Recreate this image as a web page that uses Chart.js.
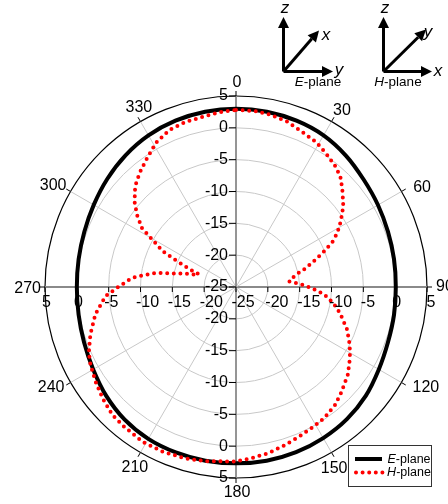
<!DOCTYPE html>
<html>
<head>
<meta charset="utf-8">
<script src="https://cdn.jsdelivr.net/npm/chart.js@4.4.1/dist/chart.umd.min.js"></script>
<style>
  html, body { margin: 0; padding: 0; background: #fff; }
  #wrap { position: relative; width: 448px; height: 504px; }
</style>
</head>
<body>
<div id="wrap"><canvas id="chart"></canvas></div>
<script>
// angles are degrees clockwise from the top, gains in dB
const eAngles = [0, 10, 20, 30, 40, 50, 60, 70, 80, 90, 100, 110, 120, 130, 140, 150, 160, 170,
  180, 190, 200, 210, 220, 230, 240, 250, 260, 270, 280, 290, 300, 310, 320, 330, 340, 350];
const eGain = [3.0, 2.95, 2.8, 2.5, 1.9, 1.2, 0.75, 0.4, 0.2, 0.1, 0.2, 0.4, 0.9, 1.6, 2.1, 2.4, 2.6, 2.7,
  2.7, 2.7, 2.65, 2.55, 2.2, 1.6, 0.9, 0.4, 0.1, 0.0, 0.1, 0.35, 0.8, 1.4, 2.0, 2.5, 2.8, 2.95];

const hAngles = [0, 6, 11, 17, 23, 29, 34, 40, 44, 48, 53, 58, 62, 65, 68, 71, 75, 78, 82, 84,
  86, 88, 90, 92, 95, 97, 99, 103, 106, 111, 117, 122, 128, 135, 140, 146, 151, 157, 163, 169, 175,
  180, 190, 197, 204, 211, 219, 224, 230, 236, 242, 246, 252, 259, 266, 270, 275, 277, 280, 282,
  285, 287, 289, 290, 292, 294, 296, 300, 302, 306, 310, 315, 320, 325, 331, 337, 343, 350, 355];
const hGain = [2.8, 2.8, 2.6, 2.2, 1.5, 1.0, 0.3, -0.5, -1.3, -2.5, -3.9, -5.6, -7.0, -8.3, -10.1, -11.8, -13.7, -15.2, -16.3, -16.6,
  -15.6, -14.6, -13.6, -12.6, -11.0, -10.5, -9.6, -8.5, -7.7, -6.3, -4.95, -3.9, -2.7, -1.6, -0.8, -0.2, 0.1, 0.5, 1.0, 1.6, 2.0,
  2.4, 2.8, 3.1, 3.3, 3.4, 3.1, 2.95, 2.3, 1.6, 0.9, 0.3, -0.95, -2.5, -4.45, -6.5, -8.6, -10.15, -12.2, -14.75,
  -16.8, -18.6, -18.8, -18.0, -16.5, -14.6, -12.2, -9.5, -7.6, -5.8, -4.2, -2.6, -1.5, -0.5, 0.9, 1.8, 2.1, 2.3, 2.6];

const angleLabels = ['0', '30', '60', '90', '120', '150', '180', '210', '240', '270', '300', '330'];
const rTicks = [5, 0, -5, -10, -15, -20, -25];

// radar wants one slot per label, so the readings sit on a 1-degree ring
const degrees = Array.from({ length: 360 }, (_, i) => i);
function onRing(angles, values) {
  const out = degrees.map(() => null);
  angles.forEach((a, i) => { out[a] = values[i]; });
  return out;
}

const FONT = "'Liberation Sans', Arial, sans-serif";

// small hand nudges so the angle labels sit where the original put them
const labelNudge = { 0: [1, 1.5], 30: [2, 2], 60: [6, 3], 90: [1, 0], 120: [6, -2], 150: [-8, 4],
  180: [1, 0], 210: [5, 2.5], 240: [-1, -2], 270: [4, 2], 300: [1, 1], 330: [9, -1] };

function arrow(ctx, x1, y1, x2, y2) {
  const a = Math.atan2(y2 - y1, x2 - x1);
  const len = 11, half = 5.5;
  const bx = x2 - len * Math.cos(a), by = y2 - len * Math.sin(a);
  ctx.beginPath();
  ctx.moveTo(x1, y1);
  ctx.lineTo(bx, by);
  ctx.stroke();
  ctx.beginPath();
  ctx.moveTo(x2, y2);
  ctx.lineTo(bx + half * Math.sin(a), by - half * Math.cos(a));
  ctx.lineTo(bx - half * Math.sin(a), by + half * Math.cos(a));
  ctx.closePath();
  ctx.fill();
}

function planeText(ctx, letter, x, y, size) {
  ctx.font = 'italic ' + size + 'px ' + FONT;
  const w1 = ctx.measureText(letter).width;
  ctx.font = size + 'px ' + FONT;
  const w2 = ctx.measureText('-plane').width;
  const x0 = x - (w1 + w2) / 2;
  ctx.textAlign = 'left';
  ctx.font = 'italic ' + size + 'px ' + FONT;
  ctx.fillText(letter, x0, y);
  ctx.font = size + 'px ' + FONT;
  ctx.fillText('-plane', x0 + w1, y);
}

const polarDecor = {
  id: 'polarDecor',
  afterDraw(chart) {
    const { ctx } = chart;
    const r = chart.scales.r;
    const R = r.getDistanceFromCenterForValue(5);
    ctx.save();
    ctx.fillStyle = '#000';
    ctx.strokeStyle = '#000';
    ctx.lineWidth = 1;

    // angle labels and little ticks on the outer ring
    ctx.font = '16px ' + FONT;
    ctx.textAlign = 'center';
    ctx.textBaseline = 'middle';
    angleLabels.forEach((lab, i) => {
      const idx = i * 30;
      const p1 = r.getPointPosition(idx, R);
      const p2 = r.getPointPosition(idx, R + 5);
      ctx.beginPath();
      ctx.moveTo(p1.x, p1.y);
      ctx.lineTo(p2.x, p2.y);
      ctx.stroke();
      const th = idx * Math.PI / 180;
      const w = ctx.measureText(lab).width;
      const p = r.getPointPosition(idx, R + 8);
      const n = labelNudge[idx] || [0, 0];
      ctx.fillText(lab, p.x + Math.sin(th) * w / 2 + n[0], p.y - Math.cos(th) * 6.5 + n[1]);
    });

    // horizontal axis values (below the line)
    const hRight = rTicks.slice(0, -1).reverse();
    const drawH = (idx, v) => {
      const p = r.getPointPositionForValue(idx, v);
      ctx.beginPath();
      ctx.moveTo(p.x, p.y);
      ctx.lineTo(p.x, p.y + 5);
      ctx.stroke();
      const s = String(v);
      if (v < 0) {
        ctx.textAlign = 'left';
        ctx.fillText(s, p.x - (idx === 90 ? 2.5 : 4.5), p.y + 16);
      } else {
        ctx.textAlign = 'center';
        ctx.fillText(s, p.x + (idx === 90 && v > 0 ? 4 : 1.5), p.y + 16);
      }
    };
    rTicks.forEach(v => drawH(270, v));
    hRight.forEach(v => drawH(90, v));

    // vertical axis values (left of the line)
    const drawV = (idx, v) => {
      const p = r.getPointPositionForValue(idx, v);
      ctx.beginPath();
      ctx.moveTo(p.x - 7, p.y);
      ctx.lineTo(p.x, p.y);
      ctx.stroke();
      ctx.textAlign = 'right';
      ctx.fillText(String(v), p.x - 8, p.y);
    };
    rTicks.forEach(v => drawV(0, v));
    hRight.forEach(v => drawV(180, v));

    // legend box
    ctx.fillStyle = '#fff';
    ctx.fillRect(348.5, 445.5, 83, 41);
    ctx.strokeStyle = '#333';
    ctx.strokeRect(348.5, 445.5, 83, 41);
    const ds = chart.data.datasets;
    const eSet = ds.find(d => d.label === 'E-plane');
    const hSet = ds.find(d => d.label === 'H-plane');
    ctx.lineWidth = eSet.borderWidth;
    ctx.strokeStyle = eSet.borderColor;
    ctx.beginPath();
    ctx.moveTo(355, 459);
    ctx.lineTo(382, 459);
    ctx.stroke();
    ctx.lineWidth = hSet.borderWidth;
    ctx.strokeStyle = hSet.borderColor;
    ctx.lineCap = 'round';
    ctx.setLineDash(hSet.borderDash);
    ctx.beginPath();
    ctx.moveTo(356, 472.5);
    ctx.lineTo(384, 472.5);
    ctx.stroke();
    ctx.setLineDash([]);
    ctx.lineCap = 'butt';
    ctx.fillStyle = '#000';
    ctx.textBaseline = 'middle';
    planeText(ctx, 'E', 409, 459.5, 12.5);
    planeText(ctx, 'H', 409, 472.5, 12.5);

    // coordinate sketches, top right
    ctx.lineWidth = 3;
    ctx.strokeStyle = '#000';
    arrow(ctx, 283.5, 71.5, 283.5, 17);
    arrow(ctx, 283.5, 71.5, 333, 71.5);
    arrow(ctx, 283.5, 71.5, 319, 30.5);
    arrow(ctx, 383.5, 71.5, 383.5, 17);
    arrow(ctx, 383.5, 71.5, 432, 71.5);
    arrow(ctx, 383.5, 71.5, 426, 29.5);
    ctx.font = 'italic 17px ' + FONT;
    ctx.textAlign = 'center';
    ctx.textBaseline = 'middle';
    ctx.fillText('z', 285, 8);
    ctx.fillText('y', 339, 70);
    ctx.fillText('x', 326, 35);
    ctx.fillText('z', 385, 8);
    ctx.fillText('x', 438, 71);
    ctx.fillText('y', 428, 32);
    planeText(ctx, 'E', 318, 82, 13.5);
    planeText(ctx, 'H', 398, 82, 13.5);
    ctx.restore();
  }
};

new Chart(document.getElementById('chart'), {
  type: 'radar',
  data: {
    labels: degrees.map(String),
    datasets: [
      {
        label: 'E-plane',
        data: onRing(eAngles, eGain),
        borderColor: '#000000',
        borderWidth: 4,
        pointRadius: 0,
        fill: false,
        spanGaps: true,
        tension: 0.3,
        order: 1
      },
      {
        label: 'H-plane',
        data: onRing(hAngles, hGain),
        borderColor: '#ff0000',
        borderWidth: 4,
        borderDash: [0, 6.6],
        borderCapStyle: 'round',
        pointRadius: 0,
        fill: false,
        spanGaps: true,
        tension: 0,
        order: 0
      }
    ]
  },
  options: {
    responsive: true,
    maintainAspectRatio: false,
    animation: false,
    layout: { padding: { left: 45, right: 20, top: 96, bottom: 26 } },
    plugins: { legend: { display: false }, tooltip: { enabled: false } },
    scales: {
      r: {
        min: -25,
        max: 5,
        startAngle: 0,
        ticks: { stepSize: 5, display: false },
        pointLabels: { display: false },
        grid: {
          circular: true,
          color: c => c.tick && c.tick.value === 5 ? '#000' : '#c8c8c8',
          lineWidth: c => c.tick && c.tick.value === 5 ? 1.2 : 1
        },
        angleLines: {
          color: c => c.index % 90 === 0 ? '#8a8a8a' : '#c8c8c8',
          lineWidth: c => c.index % 30 === 0 ? (c.index % 90 === 0 ? 1.8 : 1) : 0
        }
      }
    }
  },
  plugins: [polarDecor]
});
</script>
</body>
</html>
